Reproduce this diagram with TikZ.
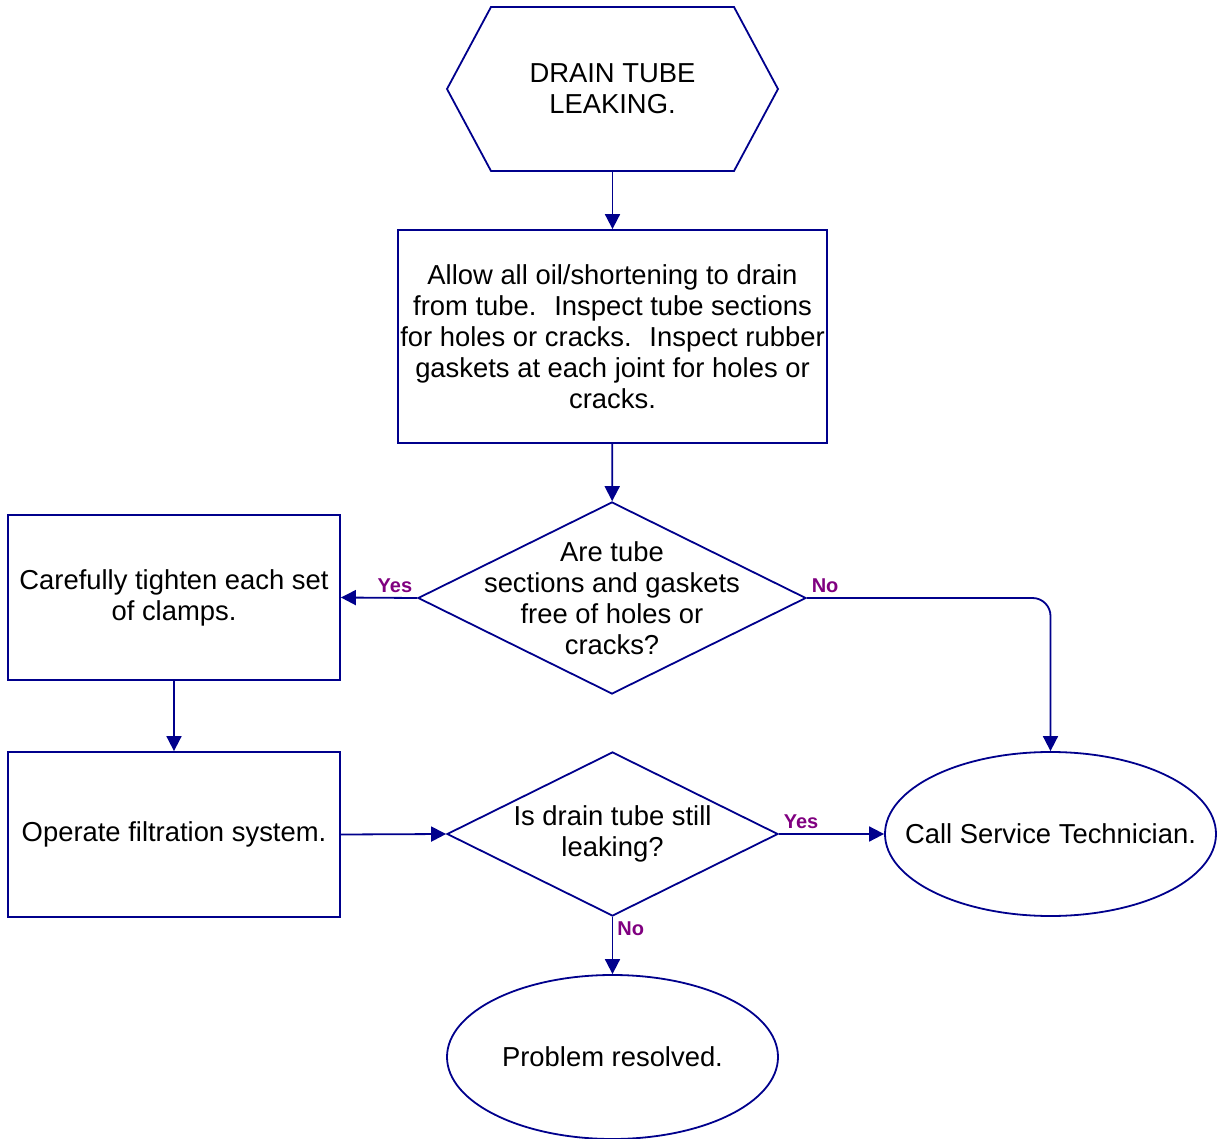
\documentclass[tikz,border=0pt]{standalone}
\usepackage{fontspec}
\setmainfont{Liberation Sans}
\usepackage{xcolor}
\usetikzlibrary{arrows.meta,shapes.geometric}

\definecolor{flowblue}{RGB}{0,0,140}
\definecolor{answerpurple}{RGB}{128,0,128}

\begin{document}
\begin{tikzpicture}[
    x=0.5pt, y=-0.5pt, % one unit per pixel of the sheet
    > = {Triangle[length=7.5pt,width=7.5pt]}, % arrow head style
    every node/.style={align=center, font=\fontsize{13.7}{15.5}\selectfont},
    process/.style={draw=flowblue, line width=0.9pt, rectangle},
    decision/.style={draw=flowblue, line width=0.9pt, diamond, aspect=2.02, inner sep=-11pt},
    terminal/.style={draw=flowblue, line width=0.9pt, ellipse, inner xsep=-18pt, inner ysep=0pt,
        minimum width=165.5pt, minimum height=82pt},
    link/.style={draw=flowblue, line width=0.9pt, ->},
    answer/.style={font=\bfseries\fontsize{10}{12}\selectfont, text=answerpurple, inner sep=2pt}
]
\useasboundingbox (0,0) rectangle (1217,1139);

% Nodes
\node[minimum width=165.5pt, minimum height=82pt, inner sep=0pt, outer sep=0pt] (leak) at (612.5,89) {DRAIN TUBE\\LEAKING.};
\draw[draw=flowblue, line width=0.9pt] (leak.west) -- ([xshift=22pt]leak.north west) -- ([xshift=-22pt]leak.north east)
    -- (leak.east) -- ([xshift=-22pt]leak.south east) -- ([xshift=22pt]leak.south west) -- cycle;

\node[process, minimum width=214.5pt, minimum height=106.5pt, inner sep=0pt] (inspect) at (612.5,336.5)
    {Allow all oil/shortening to drain\\from tube.~ Inspect tube sections\\for holes or cracks.~ Inspect rubber\\gaskets at each joint for holes or\\cracks.};
\node[decision, minimum width=194pt, minimum height=96pt] (sound) at (612,598)
    {Are tube\\sections and gaskets\\free of holes or\\cracks?};
\node[process, minimum width=166pt, minimum height=82.5pt] (tighten) at (174,597.5)
    {Carefully tighten each set\\of clamps.};
\node[process, minimum width=166pt, minimum height=82.5pt] (filter) at (174,834.5)
    {Operate filtration system.};
\node[decision, inner sep=-2pt, minimum width=165.5pt, minimum height=82pt] (still) at (612.5,834)
    {Is drain tube still\\leaking?};
\node[terminal] (service) at (1050.5,834) {Call Service Technician.};
\node[terminal] (resolved) at (612.5,1057) {Problem resolved.};

% Edges
\draw[link] (leak) -- (inspect);
\draw[link] (inspect) -- (sound);
\draw[link] (sound.west) -- node[answer, pos=0, above left] {Yes} (tighten.east);
\draw[link, rounded corners=9pt] (sound.east) -| node[answer, pos=0, above right] {No} (service.north);
\draw[link] (tighten) -- (filter);
\draw[link] (filter.east) -- (still.west);
\draw[link] (still.east) -- node[answer, pos=0, above right] {Yes} (service.west);
\draw[link] (still.south) -- node[answer, pos=0, below right] {No} (resolved.north);

\end{tikzpicture}
\end{document}
